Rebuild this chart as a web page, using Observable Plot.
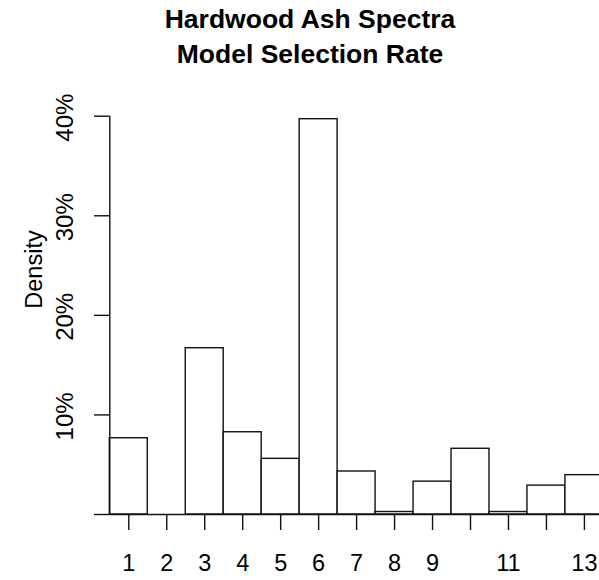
<!DOCTYPE html>
<html>
<head>
<meta charset="utf-8">
<script src="https://cdn.jsdelivr.net/npm/d3@7"></script>
<script src="https://cdn.jsdelivr.net/npm/@observablehq/plot@0.6"></script>
<style>
  html, body { margin: 0; padding: 0; background: #fff; overflow: hidden; }
  body { width: 599px; height: 580px; font-family: "Liberation Sans", Arial, sans-serif; }
  #title { position: relative; width: 599px; height: 90px; }
  #title div { position: absolute; left: 0; width: 620px; text-align: center; font-weight: bold; font-size: 26.5px; line-height: 35px; color: #000; white-space: nowrap; }
  #chart svg { display: block; overflow: hidden; }
</style>
</head>
<body>
<div id="title"><div style="top:2px">Hardwood Ash Spectra</div><div style="top:37px">Model Selection Rate</div></div>
<div id="chart"></div>
<script>
// Data
const models = [1, 2, 3, 4, 5, 6, 7, 8, 9, 10, 11, 12, 13];
const density = [0.0766, 0.0, 0.167, 0.0826, 0.0559, 0.397, 0.0432, 0.0025, 0.033, 0.066, 0.0025, 0.029, 0.0395];
const xTickLabels = ["1", "2", "3", "4", "5", "6", "7", "8", "9", "", "11", "", "13"];
const yTicks = [0, 0.1, 0.2, 0.3, 0.4];
const yTickLabels = ["", "10%", "20%", "30%", "40%"];
const yLabel = "Density";

const bars = models.map((m, i) => ({model: m, density: density[i]}));
const yLabelTicks = yTicks.map((t, i) => ({v: t, label: yTickLabels[i]})).filter(d => d.label !== "");

const H = 490;
const chart = Plot.plot({
  width: 599,
  height: H,
  marginTop: 25.7,
  marginBottom: 66,
  marginLeft: 109.3,
  marginRight: 0,
  style: {fontFamily: "'Liberation Sans', Arial, sans-serif", fontSize: "23px", color: "#000", background: "#fff", overflow: "hidden"},
  x: {domain: [0.5, 13.5], range: [109.3, 602.9]},
  y: {domain: [0, 0.4]},
  marks: [
    Plot.rectY(bars, {x1: d => d.model - 0.5, x2: d => d.model + 0.5, y1: 0, y2: "density", fill: "#fff", stroke: "#111", strokeWidth: 1.4}),
    Plot.ruleY([0], {x1: 0.5, x2: 13.5, stroke: "#111", strokeWidth: 1.4}),
    Plot.ruleX([0.5], {y1: 0, y2: 0.4, stroke: "#111", strokeWidth: 1.4}),
    Plot.axisY({ticks: yTicks, tickSize: 15.3, tickFormat: () => "", label: null, stroke: "#111", strokeWidth: 1.4, strokeOpacity: 1}),
    Plot.text(yLabelTicks, {y: "v", text: "label", frameAnchor: "left", dx: 72.5 - 109.3, dy: 1.5, rotate: -90, textAnchor: "middle", lineAnchor: "bottom", fontSize: 24, fill: "#000"}),
    Plot.text([yLabel], {frameAnchor: "left", dx: 41 - 109.3, dy: 179 - (25.7 + 424) / 2, rotate: -90, textAnchor: "middle", lineAnchor: "bottom", fontSize: 23.5, fill: "#000"}),
    Plot.axisX({ticks: models, tickSize: 16, tickPadding: 24, tickFormat: (d, i) => xTickLabels[models.indexOf(d)], label: null, fontSize: 23.5, stroke: "#111", strokeWidth: 1.4, strokeOpacity: 1, fill: "#000"})
  ]
});
document.getElementById("chart").appendChild(chart);
</script>
</body>
</html>
